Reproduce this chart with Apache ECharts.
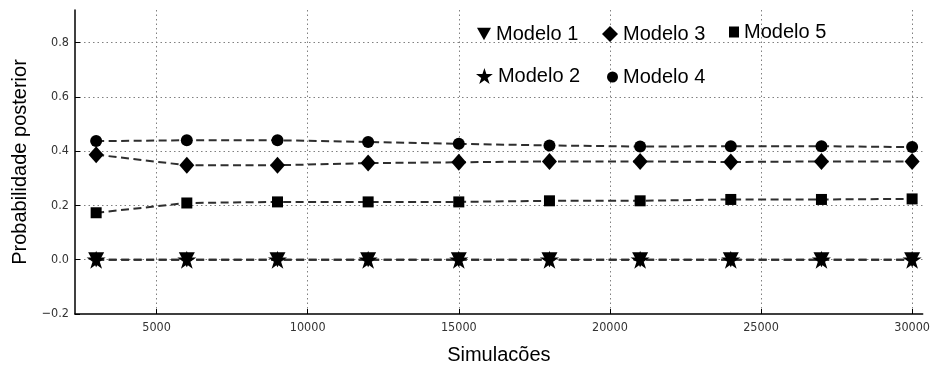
<!DOCTYPE html>
<html><head><meta charset="utf-8">
<script src="https://cdn.jsdelivr.net/npm/echarts@6/dist/echarts.min.js"></script>
<style>html,body{margin:0;padding:0;background:#fff}#c{width:933px;height:372px}</style>
</head><body><div id="c"></div>
<script>
const simulations = [3000, 6000, 9000, 12000, 15000, 18000, 21000, 24000, 27000, 30000];
const modelo1 = [0, 0, 0, 0, 0, 0, 0, 0, 0, 0];
const modelo2 = [0, 0, 0, 0, 0, 0, 0, 0, 0, 0];
const modelo3 = [0.387, 0.348, 0.348, 0.356, 0.359, 0.362, 0.362, 0.360, 0.362, 0.362];
const modelo4 = [0.437, 0.440, 0.440, 0.434, 0.427, 0.421, 0.417, 0.418, 0.418, 0.415];
const modelo5 = [0.173, 0.209, 0.213, 0.213, 0.213, 0.217, 0.217, 0.222, 0.222, 0.224];
const seriesNames = ['Modelo 1', 'Modelo 2', 'Modelo 3', 'Modelo 4', 'Modelo 5'];
const xAxisTitle = 'Simulacões';
const yAxisTitle = 'Probabilidade posterior';

const STAR = 'path://M50,0 L61.2,34.6 L97.6,34.5 L68.1,55.9 L79.4,90.5 L50,69 L20.6,90.5 L31.9,55.9 L2.4,34.5 L38.8,34.6 Z';
const TRI_DOWN = 'path://M0,0 L10,0 L5,9 Z';
const DIAMOND = 'path://M7,0 L14,7 L7,14 L0,7 Z';

const values = [modelo1, modelo2, modelo3, modelo4, modelo5];
const symbols = [TRI_DOWN, STAR, DIAMOND, 'circle', 'rect'];
const sizes = [[16, 15], [19, 18], [15, 17], 12, 11];

const series = seriesNames.map((name, k) => ({
  name: name,
  type: 'line',
  data: simulations.map((x, i) => [x, values[k][i]]),
  symbol: symbols[k],
  symbolSize: sizes[k],
  showAllSymbol: true,
  itemStyle: { color: '#000' },
  lineStyle: { color: '#2e2e2e', width: 2, type: [8, 4.5] },
  emphasis: { disabled: true },
  z: 2 + k
}));

const legendFont = { fontSize: 20, fontFamily: 'Liberation Sans, Arial, sans-serif', color: '#000' };
function mkLegend(name, icon, left, top, w, h) {
  return {
    data: [{ name: name, icon: icon, itemStyle: { color: '#000' } }],
    left: left, top: top, itemWidth: w, itemHeight: h, itemGap: 0,
    padding: 0, selectedMode: false, textStyle: legendFont
  };
}

const gridLine = { show: true, showMinLine: false, showMaxLine: false,
  lineStyle: { color: '#808080', width: 1, type: [1.5, 3] } };
const labelFont = { fontSize: 12.5, fontFamily: 'DejaVu Sans Condensed, DejaVu Sans, sans-serif', color: '#333' };

const chart = echarts.init(document.getElementById('c'), null, { renderer: 'canvas' });
chart.setOption({
  animation: false,
  backgroundColor: '#fff',
  grid: { left: 75, right: 7, top: 10, bottom: 58, containLabel: false },
  legend: [
    mkLegend('Modelo 1', TRI_DOWN, 477, 24, 14, 13),
    mkLegend('Modelo 3', DIAMOND, 602, 24, 16, 16),
    mkLegend('Modelo 5', 'rect', 729, 22, 10, 11),
    mkLegend('Modelo 2', STAR, 476, 66, 17, 16),
    mkLegend('Modelo 4', 'circle', 607, 67, 11, 11)
  ],
  xAxis: {
    type: 'value', min: 2300, max: 30350,
    name: xAxisTitle, nameLocation: 'middle', nameGap: 31,
    nameTextStyle: { fontSize: 20, fontFamily: 'Liberation Sans, Arial, sans-serif', color: '#000' },
    axisLine: { onZero: false, lineStyle: { color: '#000', width: 1.5 } },
    axisTick: { inside: true, length: 5, lineStyle: { color: '#000' } },
    axisLabel: { showMinLabel: false, showMaxLabel: false, margin: 7, ...labelFont,
      formatter: v => String(v) },
    splitLine: gridLine
  },
  yAxis: {
    type: 'value', min: -0.2, max: 0.92,
    name: yAxisTitle, nameLocation: 'middle', nameGap: 38, nameRotate: 90,
    nameTextStyle: { fontSize: 20, fontFamily: 'Liberation Sans, Arial, sans-serif', color: '#000' },
    axisLine: { show: true, onZero: false, lineStyle: { color: '#000', width: 1.5 } },
    axisTick: { show: true, inside: true, length: 5, lineStyle: { color: '#000' } },
    axisLabel: { showMaxLabel: false, margin: 6, ...labelFont,
      formatter: v => (v < 0 ? '\u2212' + Math.abs(v).toFixed(1) : v.toFixed(1)) },
    splitLine: gridLine
  },
  series: series
});
</script></body></html>
